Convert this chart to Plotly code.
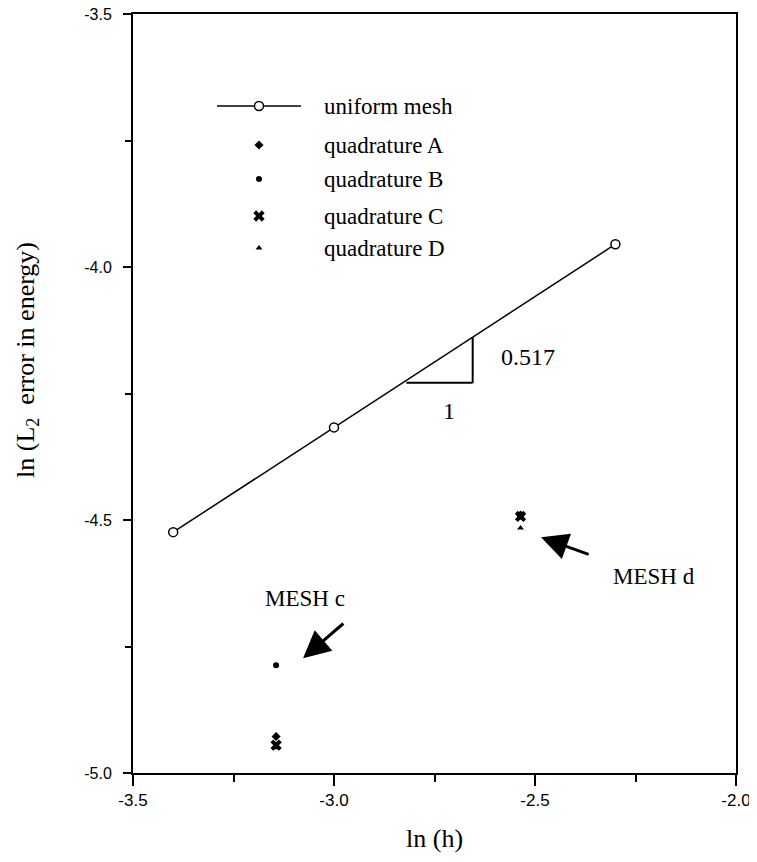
import plotly.graph_objects as go

# ---- data ----
ln_h_uniform = [-3.4, -3.0, -2.3]
err_uniform = [-4.524, -4.317, -3.955]

ln_h_mesh = [-3.144, -2.536]          # MESH c, MESH d
err_quad_A = [-4.928, -4.490]
err_quad_B = [-4.787, -4.493]
err_quad_C = [-4.945, -4.493]
err_quad_D = [-4.950, -4.516]

x_tickvals = [-3.5, -3.0, -2.5, -2.0]
x_ticktext = ["-3.5", "-3.0", "-2.5", "-2.0"]
y_tickvals = [-3.5, -4.0, -4.5, -5.0]
y_ticktext = ["-3.5", "-4.0", "-4.5", "-5.0"]

slope_text = "0.517"
run_text = "1"
legend_labels = ["uniform mesh", "quadrature A", "quadrature B", "quadrature C", "quadrature D"]

SERIF = "Liberation Serif, Times New Roman, serif"
SANS = "Liberation Sans, Arial, sans-serif"

# page geometry (the html body adds an 8px margin at the top-left of the figure)
BODY = 8
PAGE_W, PAGE_H = 757, 862
PLOT_L, PLOT_R, PLOT_T, PLOT_B = 133, 736, 14, 773


def px_to_paper(px, py):
    return (px - PLOT_L) / (PLOT_R - PLOT_L), (PLOT_B - py) / (PLOT_B - PLOT_T)


fig = go.Figure()

fig.add_trace(go.Scatter(
    x=ln_h_uniform, y=err_uniform, mode="lines+markers",
    line=dict(color="black", width=1.5),
    marker=dict(symbol="circle", size=9, color="white", line=dict(color="black", width=1.5)),
    showlegend=False))

fig.add_trace(go.Scatter(x=ln_h_mesh, y=err_quad_D, mode="markers",
                         marker=dict(symbol="triangle-up", size=6, color="black"), showlegend=False))
fig.add_trace(go.Scatter(x=ln_h_mesh, y=err_quad_A, mode="markers",
                         marker=dict(symbol="diamond", size=7, color="black"), showlegend=False))
fig.add_trace(go.Scatter(x=ln_h_mesh, y=err_quad_B, mode="markers",
                         marker=dict(symbol="circle", size=6, color="black"), showlegend=False))
fig.add_trace(go.Scatter(x=ln_h_mesh, y=err_quad_C, mode="markers",
                         marker=dict(symbol="x", size=10, color="black"), showlegend=False))

# ---- hand-drawn legend on an overlay axis measured in page pixels ----
leg_sym_x = 259
leg_text_x = 322
leg_rows = [106, 145, 179, 216, 248]
fig.add_trace(go.Scatter(x=[217, 301], y=[leg_rows[0], leg_rows[0]], mode="lines",
                         line=dict(color="black", width=1.5), xaxis="x2", yaxis="y2",
                         showlegend=False, hoverinfo="skip"))
leg_markers = [
    dict(symbol="circle", size=9, color="white", line=dict(color="black", width=1.5)),
    dict(symbol="diamond", size=7, color="black"),
    dict(symbol="circle", size=6, color="black"),
    dict(symbol="x", size=10, color="black"),
    dict(symbol="triangle-up", size=6, color="black"),
]
for row, mk in zip(leg_rows, leg_markers):
    fig.add_trace(go.Scatter(x=[leg_sym_x], y=[row], mode="markers", marker=mk,
                             xaxis="x2", yaxis="y2", showlegend=False, hoverinfo="skip"))

annotations = []
for row, lab in zip(leg_rows, legend_labels):
    annotations.append(dict(x=leg_text_x, y=row, xref="x2", yref="y2", text=lab,
                            showarrow=False, xanchor="left", yanchor="middle",
                            font=dict(family=SERIF, size=23, color="black")))

# slope triangle
tri_x0, tri_x1 = -2.82, -2.655
tri_y0 = -4.229
tri_y1 = err_uniform[0] + (tri_x1 - ln_h_uniform[0]) * 0.517
shapes = [
    dict(type="line", x0=tri_x0, x1=tri_x1, y0=tri_y0, y1=tri_y0, xref="x", yref="y",
         line=dict(color="black", width=2)),
    dict(type="line", x0=tri_x1, x1=tri_x1, y0=tri_y0, y1=tri_y1, xref="x", yref="y",
         line=dict(color="black", width=2)),
]
annotations.append(dict(x=-2.517, y=-4.178, text=slope_text, showarrow=False,
                        font=dict(family=SERIF, size=24, color="black")))
annotations.append(dict(x=-2.714, y=-4.285, text=run_text, showarrow=False,
                        font=dict(family=SERIF, size=24, color="black")))

# MESH labels and arrows
annotations.append(dict(x=-3.072, y=-4.655, text="MESH c", showarrow=False,
                        font=dict(family=SERIF, size=23, color="black")))
annotations.append(dict(x=-2.205, y=-4.612, text="MESH d", showarrow=False,
                        font=dict(family=SERIF, size=23, color="black")))
annotations.append(dict(x=-3.077, y=-4.773, ax=-2.973, ay=-4.702, xref="x", yref="y",
                        axref="x", ayref="y", text="", showarrow=True, arrowhead=2,
                        arrowsize=1.8, arrowwidth=3, arrowcolor="black", standoff=0))
annotations.append(dict(x=-2.485, y=-4.534, ax=-2.363, ay=-4.569, xref="x", yref="y",
                        axref="x", ayref="y", text="", showarrow=True, arrowhead=2,
                        arrowsize=1.8, arrowwidth=3, arrowcolor="black", standoff=0))

# axis titles (positions given in page pixels, converted to paper fractions)
xt_x, xt_y = px_to_paper((PLOT_L + PLOT_R) / 2, 838)
annotations.append(dict(x=xt_x, y=xt_y, xref="paper", yref="paper", text="ln (h)",
                        showarrow=False, xanchor="center", yanchor="middle",
                        font=dict(family=SERIF, size=26, color="black")))
yt_x, yt_y = px_to_paper(27, 360)
annotations.append(dict(x=yt_x, y=yt_y, xref="paper", yref="paper",
                        text="ln (L<sub>2</sub>  error in energy)", textangle=-90,
                        showarrow=False, xanchor="center", yanchor="middle",
                        font=dict(family=SERIF, size=26, color="black")))

# figure fills the viewport from the body offset to the window edge
fig_w = PAGE_W - BODY
fig_h = PAGE_H - BODY
fig.update_layout(
    width=fig_w, height=fig_h,
    margin=dict(l=PLOT_L - BODY, r=fig_w - (PLOT_R - BODY), t=PLOT_T - BODY,
                b=fig_h - (PLOT_B - BODY), autoexpand=False),
    paper_bgcolor="white", plot_bgcolor="white",
    showlegend=False,
    shapes=shapes, annotations=annotations,
    xaxis=dict(range=[-3.5, -2.0], tickvals=x_tickvals, ticktext=x_ticktext,
               ticks="outside", ticklen=11, tickwidth=2, tickcolor="black",
               showline=True, linecolor="black", linewidth=2, mirror=True,
               showgrid=False, zeroline=False, automargin=False, ticklabeloverflow="allow",
               tickfont=dict(family=SANS, size=17, color="black"),
               minor=dict(tickvals=[-3.25, -2.75, -2.25], ticks="outside", ticklen=7,
                          tickwidth=2, tickcolor="black", showgrid=False)),
    yaxis=dict(range=[-5.0, -3.5], tickvals=y_tickvals, ticktext=y_ticktext,
               ticks="outside", ticklen=8, tickwidth=2, tickcolor="black",
               showline=True, linecolor="black", linewidth=2, mirror=True,
               showgrid=False, zeroline=False, ticklabelstandoff=8, automargin=False,
               ticklabeloverflow="allow",
               tickfont=dict(family=SANS, size=16, color="black"),
               minor=dict(tickvals=[-3.75, -4.25, -4.75], ticks="outside", ticklen=6,
                          tickwidth=2, tickcolor="black", showgrid=False)),
    xaxis2=dict(overlaying="x", range=[PLOT_L, PLOT_R], visible=False, fixedrange=True),
    yaxis2=dict(overlaying="y", range=[PLOT_B, PLOT_T], visible=False, fixedrange=True),
)

# let the top tick label spill into the page's body margin instead of being clipped
post = ("document.querySelectorAll('.main-svg').forEach(function(s){"
        "s.style.overflow='visible';});")
fig.write_html("out.html", post_script=post)
